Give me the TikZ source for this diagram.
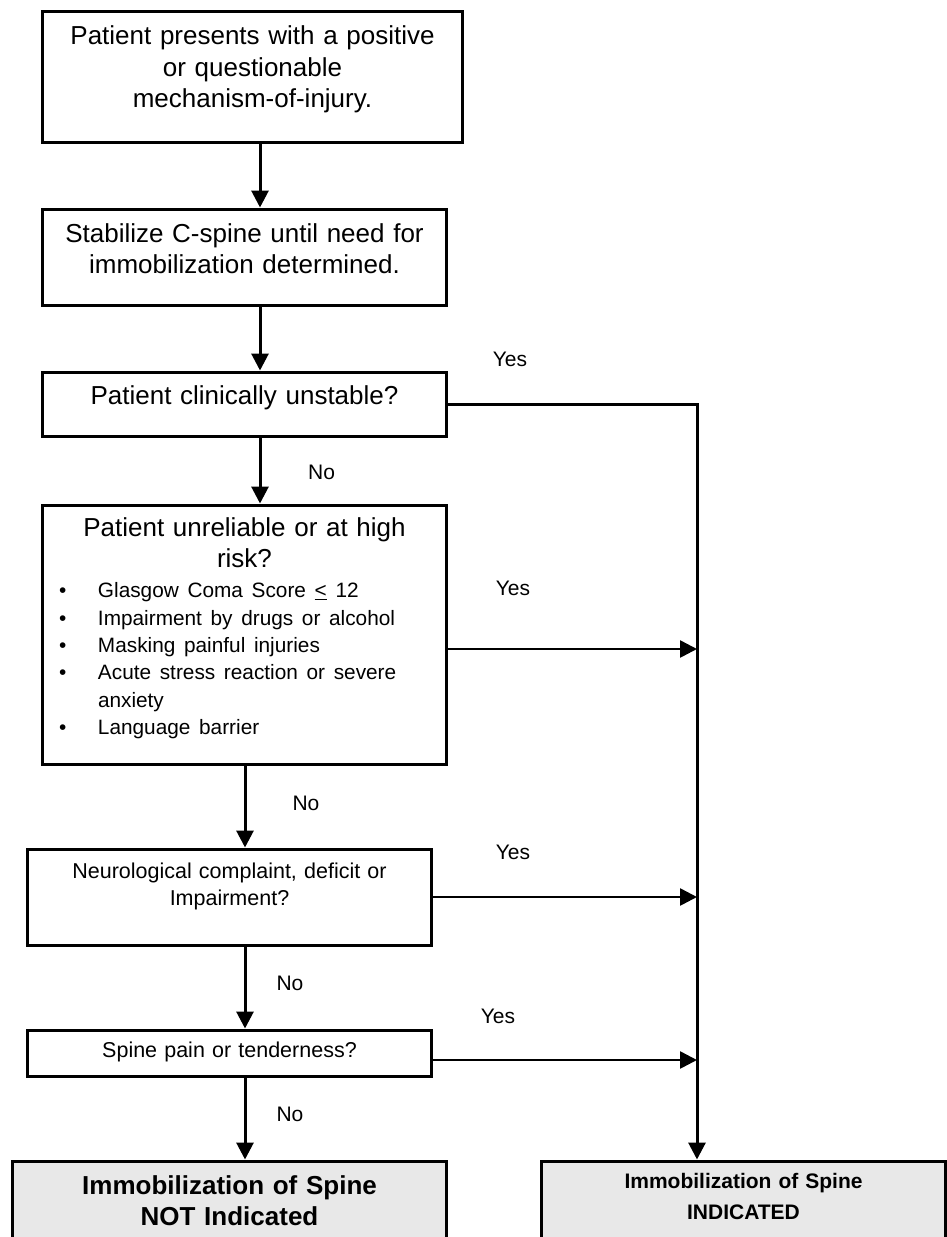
\documentclass[tikz,border=0pt]{standalone}
\usepackage{fontspec}
\setmainfont{Liberation Sans}
\usetikzlibrary{arrows.meta}

\definecolor{endgray}{RGB}{232,232,232}
\newcommand{\bigsz}{\fontsize{26}{31.3}\selectfont}
\newcommand{\smallsz}{\fontsize{21.5}{27.3}\selectfont}
\newcommand{\listsz}{\fontsize{20.8}{27.3}\selectfont}
\newcommand{\lblsz}{\fontsize{21}{25}\selectfont}
\newcommand{\riskitem}[1]{\makebox[39pt][l]{\textbullet}#1}

\begin{document}
\begin{tikzpicture}[x=1pt, y=-1pt,
    box/.style={draw, line width=3pt, align=center, inner xsep=10pt, inner ysep=0pt, anchor=north, font=\bigsz},
    endbox/.style={box, fill=endgray, font=\fontsize{26}{31}\selectfont\bfseries},
    conn/.style={line width=3pt, -{Triangle[length=17pt, width=17pt]}},
    lbl/.style={font=\lblsz, inner sep=0pt}]
    \useasboundingbox (0,0) rectangle (947,1237);
    \clip (0,0) rectangle (947,1237);

    \node[box, text width=400pt, text height=33.8pt, text depth=97.2pt] (present) at (252.5,9.5)
        {Patient presents with a positive\\ or questionable\\ mechanism-of-injury.};
    \node[box, text width=384pt, text height=33.5pt, text depth=62.5pt] (stab) at (244.5,207.5)
        {Stabilize C-spine until need for\\ immobilization determined.};
    \node[box, text width=384pt, text height=32.5pt, text depth=31.5pt] (unstab) at (244.5,370.5)
        {Patient clinically unstable?};
    \node[box, text width=371pt, inner xsep=16.5pt, text height=31.5pt, text depth=227.5pt] (risk) at (244.5,503.5)
        {Patient unreliable or at high\\ risk?\\[-1.3pt]
         \parbox[t]{371pt}{\listsz\raggedright
         \riskitem{Glasgow Coma Score \underline{<} 12}\\
         \riskitem{Impairment by drugs or alcohol}\\
         \riskitem{Masking painful injuries}\\
         \riskitem{Acute stress reaction or severe}\\
         \hspace*{39pt}anxiety\\
         \riskitem{Language barrier}}};
    \node[box, font=\smallsz, text width=384pt, text height=29.2pt, text depth=66.8pt] (neuro) at (229.5,847.5)
        {Neurological complaint, deficit or\\ Impairment?};
    \node[box, font=\smallsz, text width=384pt, text height=27.5pt, text depth=18.5pt] (pain) at (229.5,1028.5)
        {Spine pain or tenderness?};

    % outcomes
    \node[endbox, text width=414pt, text height=33.2pt, text depth=106.8pt] (notind) at (229.5,1159.5)
        {Immobilization of Spine\\ NOT Indicated};
    \node[endbox, font=\fontsize{21}{31}\selectfont\bfseries, text width=384pt, text height=27.2pt, text depth=112.8pt] (ind) at (743.5,1159.5)
        {Immobilization of Spine\\ INDICATED};

    \coordinate (colA) at (260,0);
    \coordinate (colB) at (245,0);
    \coordinate (bus) at (697,0);
    \coordinate (yesB) at (0,649);
    \coordinate (yesD) at (0,1060);

    % No path
    \draw[conn] (present.south -| colA) -- (stab.north -| colA);
    \draw[conn] (stab.south -| colA) -- (unstab.north -| colA);
    \draw[conn] (unstab.south -| colA) -- (risk.north -| colA);
    \draw[conn] (risk.south -| colB) -- (neuro.north -| colB);
    \draw[conn] (neuro.south -| colB) -- (pain.north -| colB);
    \draw[conn] (pain.south -| colB) -- (notind.north -| colB);

    % Yes path
    \draw[conn] (unstab.east) -| (ind.north -| bus);
    \draw[conn, line width=2.6pt] (risk.east |- yesB) -- (bus |- yesB);
    \draw[conn, line width=2.6pt] (neuro.east) -- (bus |- neuro.east);
    \draw[conn, line width=2.6pt] (pain.east |- yesD) -- (bus |- yesD);

    \node[lbl] (yes1) at (510,359) {Yes};
    \node[lbl] (yes2) at (513,588) {Yes};
    \node[lbl] (yes3) at (513,852) {Yes};
    \node[lbl] (yes4) at (498,1016) {Yes};
    \node[lbl, fill=white, text width=45pt, inner xsep=16pt, align=left, minimum height=61pt, anchor=south west] (no1) at (292,503.5) {No};
    \node[lbl] (no2) at (306,803) {No};
    \node[lbl] (no3) at (290,983) {No};
    \node[lbl] (no4) at (290,1114) {No};
\end{tikzpicture}
\end{document}
